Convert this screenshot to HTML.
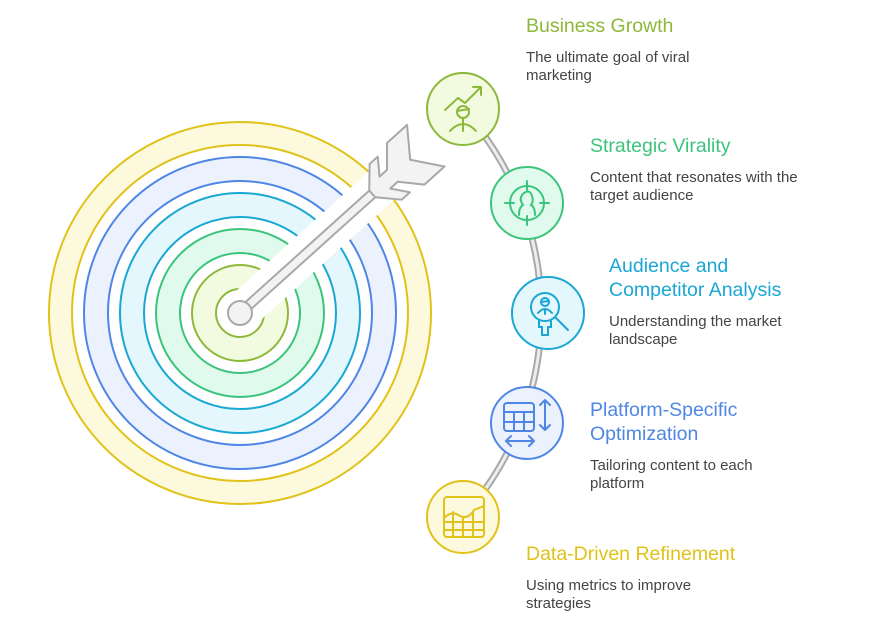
<!DOCTYPE html>
<html><head><meta charset="utf-8"><style>
html,body{margin:0;padding:0;background:#fff;}
svg{display:block;font-family:"Liberation Sans",sans-serif;}
.t{font-size:19.5px;}
.d{font-size:15px;fill:#444;}
</style></head><body>
<svg width="875" height="620" viewBox="0 0 875 620" xmlns="http://www.w3.org/2000/svg">
<path d="M463,109 A305,305 0 0 1 463,517" fill="none" stroke="#a8a8a8" stroke-width="7"/>
<path d="M463,109 A305,305 0 0 1 463,517" fill="none" stroke="#eee" stroke-width="3"/>
<g stroke-width="2" fill-rule="evenodd">
<path d="M49,313 a191,191 0 1 0 382,0 a191,191 0 1 0 -382,0 M72,313 a168,168 0 1 0 336,0 a168,168 0 1 0 -336,0" fill="#fdf9dc" stroke="#e0c21a"/>
<path d="M84,313 a156,156 0 1 0 312,0 a156,156 0 1 0 -312,0 M108,313 a132,132 0 1 0 264,0 a132,132 0 1 0 -264,0" fill="#ebf2fe" stroke="#4f86e6"/>
<path d="M120,313 a120,120 0 1 0 240,0 a120,120 0 1 0 -240,0 M144,313 a96,96 0 1 0 192,0 a96,96 0 1 0 -192,0" fill="#e4f7fd" stroke="#1aa7d4"/>
<path d="M156,313 a84,84 0 1 0 168,0 a84,84 0 1 0 -168,0 M180,313 a60,60 0 1 0 120,0 a60,60 0 1 0 -120,0" fill="#e0fbee" stroke="#3cc47c"/>
<path d="M192,313 a48,48 0 1 0 96,0 a48,48 0 1 0 -96,0 M216,313 a24,24 0 1 0 48,0 a24,24 0 1 0 -48,0" fill="#f2fbdf" stroke="#8db83a"/>
</g>
<g transform="translate(240,313) rotate(-42)">
<rect x="12" y="-19" width="190" height="38" fill="#ffffff"/>
<rect x="0" y="-4.5" width="195" height="9" rx="4" fill="#f3f3f3" stroke="#a8a8a8" stroke-width="2"/>
<polygon points="178,-4.5 196,-24 207,-24 195,-8 205,-8 223,-28 250,-28 229,0 250,28 223,28 205,8 195,8 207,24 196,24 178,4.5" fill="#f3f3f3" stroke="#a8a8a8" stroke-width="2" stroke-linejoin="round"/>
</g>
<circle cx="240" cy="313" r="12" fill="#f3f3f3" stroke="#a8a8a8" stroke-width="2"/>
<g stroke-width="2">
<circle cx="463" cy="109" r="36" fill="#f2fbdf" stroke="#8db83a"/>
<circle cx="527" cy="203" r="36" fill="#e0fbee" stroke="#3cc47c"/>
<circle cx="548" cy="313" r="36" fill="#e4f7fd" stroke="#1aa7d4"/>
<circle cx="527" cy="423" r="36" fill="#ebf2fe" stroke="#4f86e6"/>
<circle cx="463" cy="517" r="36" fill="#fdf9dc" stroke="#e0c21a"/>
</g>
<g fill="none" stroke="#8db83a" stroke-width="2" stroke-linecap="round" stroke-linejoin="round">
<path d="M445,110 L458,98 L465,103 L481,87 M473,87 L481,87 L481,95"/>
<circle cx="463" cy="112" r="6"/><path d="M457,111 L469,109"/>
<path d="M450,131 Q463,117 476,131 M463,118 L463,131"/>
</g>
<g fill="none" stroke="#3cc47c" stroke-width="2" stroke-linecap="round">
<circle cx="527" cy="203" r="17"/>
<path d="M527,181 L527,190 M527,216 L527,225 M505,203 L514,203 M540,203 L549,203"/>
<path d="M519,215 Q519,207 523,205 Q518,198 524,193 Q530,189 532,196 Q534,201 531,205 Q535,207 535,215"/>
</g>
<g fill="none" stroke="#1aa7d4" stroke-width="2" stroke-linecap="round">
<circle cx="545" cy="307" r="14"/><path d="M555,317 L568,330"/>
<circle cx="545" cy="302" r="4"/><path d="M541,302 L549,301 M538,313 Q545,305 552,313 M545,309 L545,314"/>
<path d="M539,321 L539,327 L542,327 L542,335 L548,335 L548,327 L551,327 L551,321"/>
</g>
<g fill="none" stroke="#4f86e6" stroke-width="2" stroke-linecap="round" stroke-linejoin="round">
<rect x="504" y="403" width="30" height="28" rx="3"/>
<path d="M504,412 L534,412 M504,422 L534,422 M514,412 L514,431 M524,412 L524,431"/>
<path d="M545,400 L545,430 M540,405 L545,400 L550,405 M540,425 L545,430 L550,425"/>
<path d="M506,441 L534,441 M511,436 L506,441 L511,446 M529,436 L534,441 L529,446"/>
</g>
<g fill="none" stroke="#e0c21a" stroke-width="2" stroke-linecap="round" stroke-linejoin="round">
<rect x="444" y="497" width="40" height="40" rx="3"/>
<path d="M444,518 Q452,510 460,516 Q468,520 474,510 L484,506"/>
<path d="M444,522 L484,522 M444,530 L484,530 M453,512 L453,537 M463,517 L463,537 M473,513 L473,537"/>
</g>
<text class="t" x="526" y="32" fill="#8db83a">Business Growth</text>
<text class="d" x="526" y="62">The ultimate goal of viral</text>
<text class="d" x="526" y="80">marketing</text>
<text class="t" x="590" y="152" fill="#3cc47c">Strategic Virality</text>
<text class="d" x="590" y="182">Content that resonates with the</text>
<text class="d" x="590" y="200">target audience</text>
<text class="t" x="609" y="272" fill="#1aa7d4">Audience and</text>
<text class="t" x="609" y="296" fill="#1aa7d4">Competitor Analysis</text>
<text class="d" x="609" y="326">Understanding the market</text>
<text class="d" x="609" y="344">landscape</text>
<text class="t" x="590" y="416" fill="#4f86e6">Platform-Specific</text>
<text class="t" x="590" y="440" fill="#4f86e6">Optimization</text>
<text class="d" x="590" y="470">Tailoring content to each</text>
<text class="d" x="590" y="488">platform</text>
<text class="t" x="526" y="560" fill="#e0c21a">Data-Driven Refinement</text>
<text class="d" x="526" y="590">Using metrics to improve</text>
<text class="d" x="526" y="608">strategies</text>
</svg>
</body></html>
